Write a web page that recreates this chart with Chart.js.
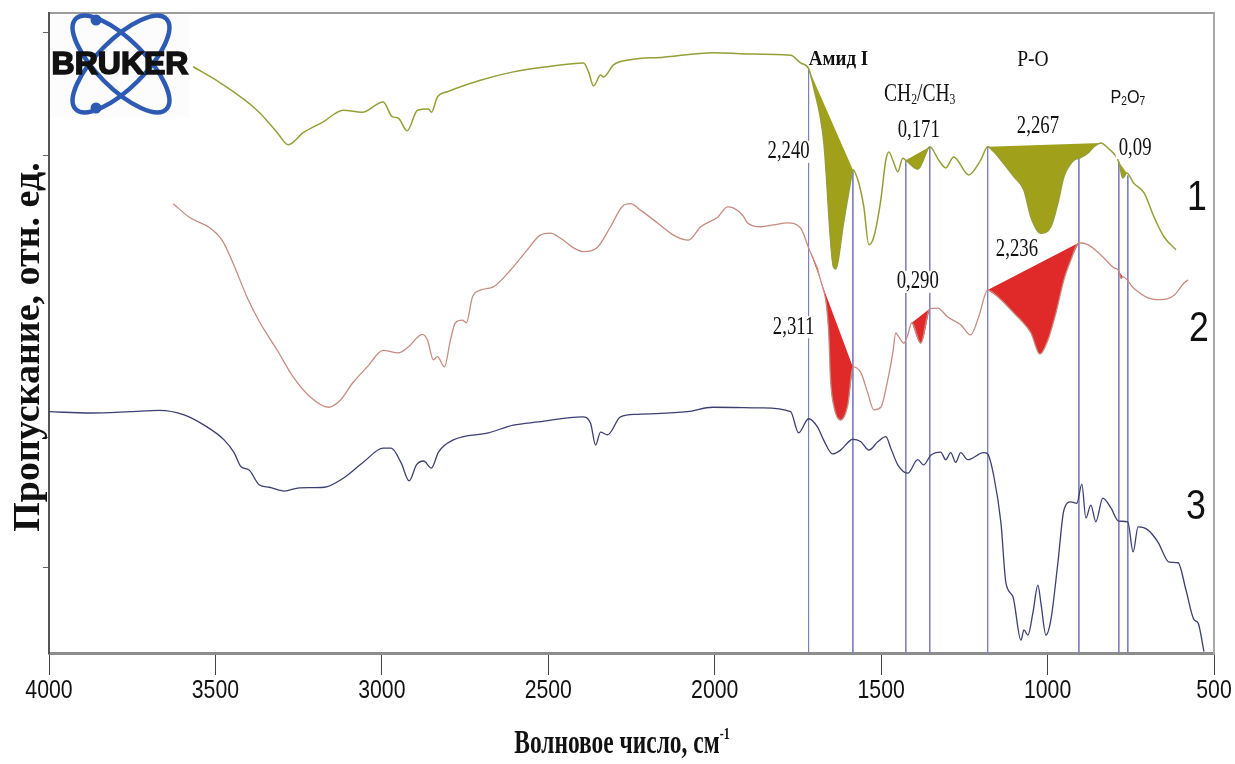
<!DOCTYPE html>
<html lang="ru">
<head>
<meta charset="utf-8">
<title>ИК-спектры</title>
<script src="https://cdn.jsdelivr.net/npm/chart.js@4.4.1/dist/chart.umd.min.js"></script>
<style>
  html, body { margin: 0; padding: 0; background: #fff; }
  canvas { display: block; }
</style>
</head>
<body>
<canvas id="spectra" width="1235" height="764"></canvas>
<script>
/* =========================
   DATA
========================= */
// x axis, cm-1
const xTicks = [4000, 3500, 3000, 2500, 2000, 1500, 1000, 500];
// y axis: transmittance, arb. units (0..100 over the plot height), unlabeled ticks
const yTicks = [13.4, 33.6, 77.8, 97.0];

// spectrum 1 (olive)
const wn1 = [3567,3486,3375,3314,3281,3236,3176,3116,3059,2996,2969,2951,2924,2893,2860,2851,2833,2803,2704,2605,
  2503,2394,2379,2364,2343,2334,2304,2253,2154,2003,1901,1772,1742,1718,1703,1673,1643,1637,1613,1591,
  1585,1567,1552,1537,1522,1501,1486,1477,1462,1450,1435,1426,1390,1354,1327,1306,1282,1237,1201,1180,
  1140,1101,1071,1050,1020,990,969,951,921,906,879,861,840,819,786,774,762,741,710,680,650,614];
const t1 = [91.6,89.1,84.8,81.3,79.4,81.3,83.0,84.8,84.5,86.1,83.8,83.6,81.6,84.8,85.0,84.5,86.9,87.7,89.5,90.8,
  91.6,92.2,90.8,88.6,90.3,90.0,91.9,92.7,93.1,93.8,93.6,93.4,92.2,91.3,88.4,80.2,60.3,60.0,67.2,73.9,
  75.5,73.4,69.7,63.8,65.0,70.8,77.0,78.3,76.6,75.2,77.3,77.0,75.6,79.1,77.0,75.8,77.5,74.7,77.0,79.1,
  77.0,74.4,72.3,68.1,65.6,66.6,70.3,74.4,77.0,77.3,78.1,79.1,79.7,78.9,76.7,74.2,75.0,73.4,71.9,68.1,65.0,63.0];

// spectrum 2 (brown)
const wn2 = [3627,3576,3516,3480,3447,3405,3366,3314,3266,3215,3161,3125,3086,3044,2996,2951,2921,2878,2863,2845,
  2833,2812,2794,2779,2758,2746,2728,2704,2665,2614,2563,2524,2494,2463,2424,2394,2352,2313,2277,2253,
  2223,2172,2124,2079,2042,1991,1961,1943,1916,1901,1862,1823,1781,1742,1718,1682,1658,1652,1643,1622,
  1600,1585,1561,1540,1522,1501,1480,1465,1456,1447,1432,1420,1408,1381,1354,1330,1300,1261,1231,1207,
  1180,1140,1101,1080,1050,1023,999,975,951,930,906,879,840,801,786,779,774,741,698,659,620,590,578];
const t2 = [70.2,68.0,66.4,64.5,60.9,55.6,51.6,47.3,43.1,40.0,38.4,39.5,42.3,44.7,47.3,46.9,47.8,49.8,48.9,45.8,
  46.3,44.7,48.9,51.6,52.0,51.6,55.6,56.7,57.2,59.8,63.0,65.3,65.6,64.8,63.3,62.7,63.4,66.6,69.8,70.2,
  69.2,67.2,65.3,64.5,66.6,68.1,69.7,69.5,68.4,67.2,66.6,66.9,67.2,66.4,63.3,58.3,50.5,42.7,38.8,36.4,
  38.8,44.7,43.8,40.6,38.0,38.4,42.7,46.9,50.0,49.4,48.4,49.7,51.6,48.4,53.8,53.9,52.5,51.3,49.7,52.5,
  56.7,55.2,53.1,52.0,50.0,46.7,48.9,53.1,58.3,61.4,64.1,63.8,62.2,60.2,59.7,58.5,58.8,57.0,55.5,55.2,55.9,57.8,58.3];

// spectrum 3 (navy)
const wn3 = [4000,3877,3756,3669,3594,3534,3474,3444,3423,3399,3369,3338,3293,3248,3173,3116,3056,2996,2972,2942,
  2918,2896,2875,2851,2830,2785,2680,2605,2530,2397,2373,2358,2343,2322,2283,2232,2082,2006,1859,1772,
  1748,1718,1691,1673,1646,1622,1585,1561,1537,1510,1486,1471,1450,1420,1390,1372,1351,1321,1306,1291,
  1276,1261,1240,1192,1180,1161,1140,1125,1104,1080,1071,1059,1044,1029,1020,1005,990,969,951,930,
  912,897,885,870,855,834,810,786,759,743,728,698,668,635,608,584,560,548,530];
const t3 = [37.7,37.5,37.7,37.9,37.2,35.6,33.3,31.3,29.1,28.6,26.3,25.9,25.3,25.8,25.9,27.3,29.8,32.0,32.0,29.7,
  26.9,29.4,30.0,28.9,31.4,33.3,34.4,35.6,36.1,36.9,35.9,32.5,34.5,34.1,36.9,37.3,37.7,38.4,38.3,37.7,
  34.4,36.6,35.3,33.3,31.1,31.7,33.4,33.0,31.7,33.0,33.8,32.0,29.4,28.1,30.2,29.4,30.9,31.4,30.2,31.3,
  29.8,31.3,30.2,31.3,31.1,27.5,20.3,10.9,8.8,2.0,3.6,2.8,6.3,10.6,7.8,2.8,5.2,14.1,22.3,23.6,
  23.4,26.4,21.1,23.1,20.5,24.2,22.7,20.6,20.5,15.8,19.7,19.2,17.3,14.2,14.1,9.8,5.2,4.7,0.2];

// shaded bands [from, to], cm-1
const bands1 = [[1718, 1585], [1426, 1354], [1180, 840], [786, 762]];
const bands2 = [[1718, 1585], [1408, 1354], [1180, 906], [786, 774]];

// vertical guide lines, cm-1, and where each one starts (on spectrum 1)
const guideWn  = [1718, 1585, 1426, 1354, 1180, 906, 786, 759];
const guideTop = [91.3, 75.5, 77.0, 79.1, 79.1, 77.3, 76.7, 74.6];

// annotations: text, cm-1, y, kind
const notes = [
  ['Амид I', 1628, 92.7, 'head'],
  ['P-O', 1044, 92.7, 'po'],
  ['2,240', 1778, 78.3, 'num'],
  ['0,171', 1387, 81.7, 'num'],
  ['2,267', 1029, 82.2, 'num'],
  ['0,09', 737, 78.9, 'num'],
  ['2,236', 1092, 63.0, 'num'],
  ['0,290', 1390, 58.0, 'num'],
  ['2,311', 1763, 50.9, 'num'],
  ['1', 551, 71.1, 'idx'],
  ['2', 545, 50.6, 'idx'],
  ['3', 554, 22.7, 'idx']
];


/* =========================
   HELPERS
========================= */
const SERIF = '"Liberation Serif", "Times New Roman", serif';
const SANS = '"Liberation Sans", Arial, sans-serif';

const FONTS = {
  head: { font: 'bold 20px ' + SERIF, sx: 0.95 },
  po:   { font: '23px ' + SERIF, sx: 0.85 },
  num:  { font: '25px ' + SERIF, sx: 0.75, box: true },
  idx:  { font: '42px ' + SANS, sx: 0.85 }
};

const toPts = (w, t) => w.map((x, i) => ({ x, y: t[i] }));
const at = (pts, w) => pts.find(p => p.x === w);
const region = (pts, hi, lo) => pts.filter(p => p.x <= hi && p.x >= lo);

const s1 = toPts(wn1, t1);
const s2 = toPts(wn2, t2);
const s3 = toPts(wn3, t3);

function put(ctx, text, x, y, font, sx, align) {
  ctx.save();
  ctx.translate(x, y);
  ctx.scale(sx, 1);
  ctx.font = font;
  ctx.textAlign = align || 'center';
  ctx.textBaseline = 'middle';
  ctx.fillText(text, 0, 0);
  ctx.restore();
}

// pieces: [text, shift] ; shift > 0 = subscript, < 0 = superscript
function putParts(ctx, pieces, x, y, font, smallFont, sx) {
  ctx.save();
  ctx.translate(x, y);
  ctx.scale(sx, 1);
  ctx.textBaseline = 'middle';
  ctx.textAlign = 'left';
  let total = 0;
  pieces.forEach(([t, sh]) => { ctx.font = sh ? smallFont : font; total += ctx.measureText(t).width; });
  let cx = -total / 2;
  pieces.forEach(([t, sh]) => {
    ctx.font = sh ? smallFont : font;
    ctx.fillText(t, cx, sh);
    cx += ctx.measureText(t).width;
  });
  ctx.restore();
}

function drawLogo(ctx) {
  ctx.save();
  ctx.fillStyle = '#fcfcfc';
  ctx.fillRect(50, 15, 140, 102);
  ctx.strokeStyle = '#2d5bb4';
  ctx.fillStyle = '#2d5bb4';
  ctx.lineWidth = 4.5;
  [Math.PI / 4, -Math.PI / 4].forEach(a => {
    ctx.beginPath();
    ctx.ellipse(121, 64, 64, 24, a, 0, Math.PI * 2);
    ctx.stroke();
  });
  [[96, 20], [96, 108]].forEach(([x, y]) => {
    ctx.beginPath();
    ctx.arc(x, y, 5.5, 0, Math.PI * 2);
    ctx.fill();
  });
  ctx.font = 'bold 32px ' + SANS;
  ctx.textAlign = 'center';
  ctx.textBaseline = 'middle';
  ctx.fillStyle = '#111';
  ctx.strokeStyle = '#111';
  ctx.lineWidth = 1.6;
  ctx.strokeText('BRUKER', 120, 65);
  ctx.fillText('BRUKER', 120, 65);
  ctx.restore();
}


/* =========================
   DATASETS
========================= */
const line = (data, color, width) => ({
  data, borderColor: color, borderWidth: width, pointRadius: 0, fill: false,
  cubicInterpolationMode: 'monotone'
});

const datasets = [
  line(s1, '#959f37', 1.5),
  line(s2, '#c68c80', 1.3),
  line(s3, '#3b4070', 1.3)
];

function addBands(pts, bands, color) {
  bands.forEach(([hi, lo]) => {
    // curve piece, filled up to the straight baseline that follows it
    datasets.push({
      data: region(pts, hi, lo), borderWidth: 0, pointRadius: 0,
      backgroundColor: color, fill: '+1', cubicInterpolationMode: 'monotone'
    });
    datasets.push({ data: [at(pts, hi), at(pts, lo)], borderWidth: 0, pointRadius: 0, fill: false });
  });
}
addBands(s1, bands1, '#a0a01a');
addBands(s2, bands2, '#e02a2a');

guideWn.forEach((w, i) => {
  datasets.push({
    data: [{ x: w, y: guideTop[i] }, { x: w, y: 0 }],
    borderColor: '#8080bd', borderWidth: 1, pointRadius: 0, fill: false
  });
});


/* =========================
   TEXT / DECOR PLUGIN
========================= */
const decor = {
  id: 'decor',
  afterDraw(chart) {
    const { ctx, scales: { x, y } } = chart;
    ctx.save();
    ctx.fillStyle = '#111';

    // x tick labels
    x.ticks.forEach(t => {
      put(ctx, String(t.value), x.getPixelForValue(t.value), x.top + 38, '25px ' + SANS, 0.85);
    });

    // axis titles
    putParts(ctx, [['Волновое число, см', 0], ['-1', -9]], 622, 744,
      'bold 33px ' + SERIF, 'bold 17px ' + SERIF, 0.71);

    ctx.save();
    ctx.translate(29, 347);
    ctx.rotate(-Math.PI / 2);
    put(ctx, 'Пропускание, отн. ед.', 0, 0, 'bold 38px ' + SERIF, 1);
    ctx.restore();

    // band annotations
    notes.forEach(([text, w, v, kind]) => {
      const f = FONTS[kind];
      const px = x.getPixelForValue(w);
      const py = y.getPixelForValue(v);
      if (f.box) {
        ctx.font = f.font;
        const tw = ctx.measureText(text).width * f.sx;
        ctx.fillStyle = '#fff';
        ctx.fillRect(px - tw / 2 - 3, py - 11, tw + 6, 22);
        ctx.fillStyle = '#111';
      }
      put(ctx, text, px, py, f.font, f.sx);
    });

    putParts(ctx, [['CH', 0], ['2', 5], ['/CH', 0], ['3', 5]],
      x.getPixelForValue(1384), y.getPixelForValue(87.2), '25px ' + SERIF, '15px ' + SERIF, 0.78);
    putParts(ctx, [['P', 0], ['2', 4], ['O', 0], ['7', 4]],
      x.getPixelForValue(759), y.getPixelForValue(86.7), '19px ' + SANS, '12px ' + SANS, 0.85);

    drawLogo(ctx);
    ctx.restore();
  }
};


/* =========================
   CHART
========================= */
new Chart(document.getElementById('spectra'), {
  type: 'line',
  data: { datasets },
  plugins: [decor],
  options: {
    responsive: false,
    animation: false,
    devicePixelRatio: 1,
    layout: { padding: 0 },
    plugins: {
      legend: { display: false },
      tooltip: { enabled: false },
      filler: { propagate: false }
    },
    scales: {
      x: {
        type: 'linear', position: 'bottom', reverse: true, min: 500, max: 4000,
        afterBuildTicks: s => { s.ticks = xTicks.map(value => ({ value })); },
        afterFit: s => { s.height = 111; },
        ticks: { display: false },
        grid: { drawOnChartArea: false, drawTicks: true, tickLength: 22, color: '#444', lineWidth: 1 },
        border: { color: '#8d8d8d', width: 3 }
      },
      xTop: {
        type: 'linear', position: 'top', reverse: true, min: 500, max: 4000,
        afterFit: s => { s.height = 13; },
        ticks: { display: false },
        grid: { display: false },
        border: { color: '#9c9c9c', width: 2 }
      },
      y: {
        type: 'linear', position: 'left', min: 0, max: 100,
        afterBuildTicks: s => { s.ticks = yTicks.map(value => ({ value })); },
        afterFit: s => { s.width = 49; },
        ticks: { display: false },
        grid: { drawOnChartArea: false, drawTicks: true, tickLength: 6, color: '#666' },
        border: { color: '#555', width: 2 }
      },
      yRight: {
        type: 'linear', position: 'right', min: 0, max: 100,
        afterFit: s => { s.width = 21; },
        ticks: { display: false },
        grid: { display: false },
        border: { color: '#a8a8a8', width: 2 }
      }
    }
  }
});
</script>
</body>
</html>
